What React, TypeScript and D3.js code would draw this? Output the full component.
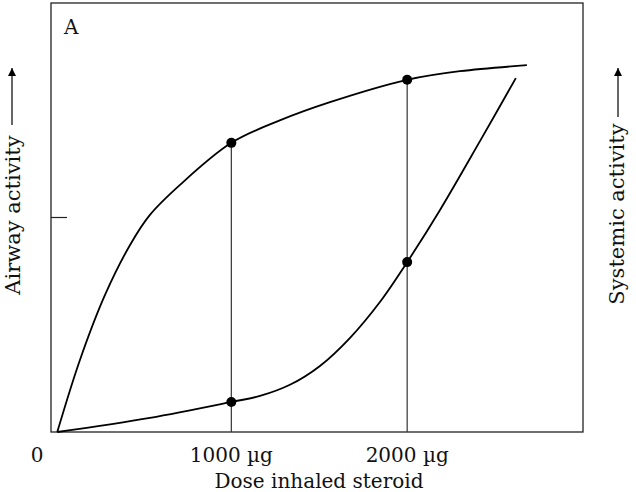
import React from "react";
import * as d3 from "d3";

// Dose (µg) vs activity (0-100 arbitrary units)
const airwayDose = [10, 139, 281, 424, 537, 708, 1000, 1279, 1561, 2000, 2300, 2681];
const airwayActivity = [0, 16.8, 31.9, 43.6, 50.6, 57.6, 67.4, 72.7, 76.9, 82.1, 84.1, 85.5];

const systemicDose = [10, 537, 1000, 1163, 1333, 1504, 1674, 1845, 2000, 2186, 2414, 2618];
const systemicActivity = [0, 3.3, 7.0, 8.4, 11.0, 15.4, 21.9, 30.3, 39.6, 51.7, 67.8, 82.5];

const markerDoses = [1000, 2000];
const markerAirway = [67.4, 82.1];
const markerSystemic = [7.0, 39.6];

const xTicks = [0, 1000, 2000];
const xTickLabels = ["0", "1000 µg", "2000 µg"];
const yTicks = [50];

const W = 636;
const H = 492;
const frame = { left: 51, right: 583, top: 3, bottom: 432 };

export default function App() {
  const x = d3.scaleLinear().domain([0, 3000]).range([55.5, 583]);
  const y = d3.scaleLinear().domain([0, 100]).range([frame.bottom, frame.top]);

  const line = d3
    .line<[number, number]>()
    .x((d) => x(d[0]))
    .y((d) => y(d[1]))
    .curve(d3.curveCatmullRom.alpha(0.5));

  const airway = airwayDose.map((d, i) => [d, airwayActivity[i]] as [number, number]);
  const systemic = systemicDose.map((d, i) => [d, systemicActivity[i]] as [number, number]);

  const font = "'DejaVu Serif', 'Liberation Serif', serif";

  return (
    <svg
      width={W}
      height={H}
      style={{ position: "absolute", left: 0, top: 0, background: "#fff" }}
      fontFamily={font}
    >
      <defs>
        <marker id="arr" viewBox="0 0 10 10" refX="10" refY="5" markerWidth="8" markerHeight="8" orient="auto" markerUnits="userSpaceOnUse">
          <path d="M0,0 L10,5 L0,10 z" fill="#000" />
        </marker>
      </defs>
      <rect
        x={frame.left}
        y={frame.top}
        width={frame.right - frame.left}
        height={frame.bottom - frame.top}
        fill="none"
        stroke="#222"
        strokeWidth={1.3}
      />
      {yTicks.map((t) => (
        <line key={t} x1={frame.left} x2={frame.left + 16} y1={y(t)} y2={y(t)} stroke="#222" strokeWidth={1.2} />
      ))}
      {markerDoses.map((d, i) => (
        <line
          key={"v" + d}
          x1={x(d)}
          x2={x(d)}
          y1={y(markerAirway[i])}
          y2={frame.bottom}
          stroke="#333"
          strokeWidth={1.2}
        />
      ))}
      <path d={line(airway) || ""} fill="none" stroke="#000" strokeWidth={1.8} />
      <path d={line(systemic) || ""} fill="none" stroke="#000" strokeWidth={1.8} />
      {markerDoses.map((d, i) => (
        <g key={"m" + d}>
          <circle cx={x(d)} cy={y(markerAirway[i])} r={5} fill="#000" />
          <circle cx={x(d)} cy={y(markerSystemic[i])} r={5} fill="#000" />
        </g>
      ))}
      {xTicks.map((t, i) => (
        <text
          key={"xt" + t}
          x={t === 0 ? 37 : x(t)}
          y={462}
          fontSize={20}
          textAnchor="middle"
          fill="#111"
        >
          {xTickLabels[i]}
        </text>
      ))}
      <text x={319} y={488} fontSize={20} textAnchor="middle" fill="#111">
        Dose inhaled steroid
      </text>
      <text x={64} y={34} fontSize={20} fill="#111">
        A
      </text>
      <text transform="translate(20,215) rotate(-90)" fontSize={21} textAnchor="middle" fill="#111">
        Airway activity
      </text>
      <line x1={12} x2={12} y1={125} y2={68} stroke="#000" strokeWidth={1.2} markerEnd="url(#arr)" />
      <text transform="translate(624,214) rotate(-90)" fontSize={21} textAnchor="middle" fill="#111">
        Systemic activity
      </text>
      <line x1={618} x2={618} y1={117} y2={68} stroke="#000" strokeWidth={1.2} markerEnd="url(#arr)" />
    </svg>
  );
}
